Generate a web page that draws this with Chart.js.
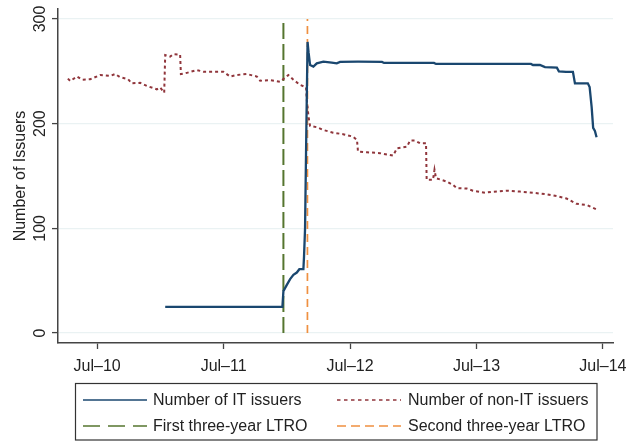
<!DOCTYPE html>
<html>
<head>
<meta charset="utf-8">
<script src="https://cdn.jsdelivr.net/npm/chart.js@4.4.1/dist/chart.umd.min.js"></script>
<style>
  html, body { margin: 0; padding: 0; background: #ffffff; }
  #wrap { width: 629px; height: 441px; position: relative; }
</style>
</head>
<body>
<div id="wrap"><canvas id="c" width="629" height="441"></canvas></div>
<script>
// ---- Data (dates as decimal years) ----
const itDates = [2011.038, 2011.965, 2011.973, 2012.000, 2012.026, 2012.052, 2012.079, 2012.099, 2012.131, 2012.136, 2012.144, 2012.155, 2012.164, 2012.172, 2012.184, 2012.210, 2012.237, 2012.289, 2012.355, 2012.395, 2012.421, 2012.563, 2012.753, 2012.769, 2013.164, 2013.180, 2013.931, 2013.947, 2014.002, 2014.042, 2014.136, 2014.152, 2014.208, 2014.263, 2014.279, 2014.381, 2014.395, 2014.411, 2014.423, 2014.437, 2014.450];
const itValues = [25, 25, 40, 46, 51.5, 55.6, 57.8, 61, 61, 73, 99, 200, 278, 268, 256, 254.5, 257.6, 259.2, 258.3, 257.6, 259, 259.2, 259, 258, 258, 257, 257, 256, 256, 254, 253.5, 250, 249.5, 249.5, 238.5, 238.5, 235, 216, 196, 193, 187];

const nonItDates = [2010.268, 2010.287, 2010.340, 2010.381, 2010.445, 2010.524, 2010.603, 2010.642, 2010.682, 2010.745, 2010.774, 2010.840, 2010.893, 2010.972, 2010.998, 2011.030, 2011.038, 2011.077, 2011.103, 2011.156, 2011.162, 2011.209, 2011.288, 2011.340, 2011.419, 2011.498, 2011.551, 2011.604, 2011.683, 2011.763, 2011.789, 2011.868, 2011.947, 2012.012, 2012.052, 2012.105, 2012.152, 2012.158, 2012.170, 2012.176, 2012.184, 2012.237, 2012.287, 2012.366, 2012.445, 2012.524, 2012.555, 2012.563, 2012.634, 2012.737, 2012.840, 2012.872, 2012.951, 2012.974, 2013.014, 2013.053, 2013.101, 2013.106, 2013.156, 2013.168, 2013.180, 2013.264, 2013.314, 2013.344, 2013.423, 2013.472, 2013.567, 2013.630, 2013.739, 2013.844, 2013.947, 2014.055, 2014.134, 2014.213, 2014.292, 2014.371, 2014.445];
const nonItValues = [243, 240.8, 245, 242, 242.4, 246.5, 245.6, 247.4, 244.3, 242.4, 238.5, 239, 236, 232.8, 234.5, 229.6, 265.5, 264, 266.4, 266, 247.4, 248.5, 251.2, 249.6, 249.6, 249.6, 245, 246.5, 247.4, 245, 241, 241.5, 240, 246.5, 242, 237, 234.7, 222.6, 208.3, 203.5, 197.8, 196.6, 194, 191.4, 189.9, 187.6, 184.4, 173.3, 172.7, 171.8, 169.5, 176.5, 178, 183.8, 183.8, 181.3, 181.3, 146.3, 146.3, 156, 147.9, 144.7, 141.5, 138.4, 138, 136, 134, 135, 136, 135.1, 134, 132.5, 130.8, 128.5, 123.4, 122.4, 118.3];

const ltroDates = [2011.973, 2012.163];
const ltroSpan = [0, 300];

const seriesLabels = ['Number of IT issuers', 'Number of non-IT issuers', 'First three-year LTRO', 'Second three-year LTRO'];
const xTickValues = [2010.5, 2011.5, 2012.5, 2013.5, 2014.5];
const xTickLabels = ['Jul\u201310', 'Jul\u201311', 'Jul\u201312', 'Jul\u201313', 'Jul\u201314'];
const yTickValues = [0, 100, 200, 300];
const yTitle = 'Number of Issuers';

// ---- Styles ----
const FONT = "'Liberation Sans', Arial, Helvetica, sans-serif";
const colors = ['#1a476f', '#90353b', '#55752f', '#ef9040'];
const widths = [2.3, 2, 2, 1.7];
const dashes = [[], [3, 3], [16, 5], [8, 5]];
const legendWidths = [1.6, 1.6, 1.6, 1.6];
const legendDashes = [[], [3.5, 3.5], [17, 8], [9, 5]];

const toPts = (xs, ys) => xs.map((x, i) => ({ x: x, y: ys[i] }));

const datasets = [
  { label: seriesLabels[0], data: toPts(itDates, itValues) },
  { label: seriesLabels[1], data: toPts(nonItDates, nonItValues) },
  { label: seriesLabels[2], data: toPts([ltroDates[0], ltroDates[0]], ltroSpan) },
  { label: seriesLabels[3], data: toPts([ltroDates[1], ltroDates[1]], ltroSpan) }
].map((d, i) => Object.assign(d, {
  borderColor: colors[i],
  borderWidth: widths[i],
  borderDash: dashes[i],
  pointRadius: 0,
  pointHoverRadius: 0,
  tension: 0,
  fill: false,
  order: [1, 2, 3, 4][i]
}));

const stataDecor = {
  id: 'stataDecor',
  afterDraw(chart) {
    const ctx = chart.ctx;
    const yScale = chart.scales.y;
    const area = chart.chartArea;
    ctx.save();
    ctx.fillStyle = '#222';
    // rotated y tick labels
    ctx.font = '16px ' + FONT;
    ctx.textAlign = 'center';
    ctx.textBaseline = 'alphabetic';
    yTickValues.forEach(v => {
      const py = yScale.getPixelForValue(v);
      ctx.save();
      ctx.translate(45, py);
      ctx.rotate(-Math.PI / 2);
      ctx.fillText(String(v), 0, 0);
      ctx.restore();
    });
    // y title
    ctx.save();
    ctx.font = '16px ' + FONT;
    ctx.translate(24.5, (area.top + area.bottom) / 2);
    ctx.rotate(-Math.PI / 2);
    ctx.fillText(yTitle, 0, 0);
    ctx.restore();

    // legend box
    ctx.strokeStyle = '#333';
    ctx.lineWidth = 1.2;
    ctx.setLineDash([]);
    ctx.strokeRect(75.5, 383.5, 521.5, 56.5);
    const lineX = [83, 337];
    const textX = [153, 408];
    const rowY = [400, 426];
    ctx.font = '16px ' + FONT;
    ctx.textAlign = 'left';
    ctx.textBaseline = 'middle';
    chart.data.datasets.forEach((ds, i) => {
      const col = i % 2, row = Math.floor(i / 2);
      const y = rowY[row];
      ctx.beginPath();
      ctx.strokeStyle = ds.borderColor;
      ctx.lineWidth = legendWidths[i];
      ctx.setLineDash(legendDashes[i]);
      ctx.moveTo(lineX[col], y);
      ctx.lineTo(lineX[col] + 64, y);
      ctx.stroke();
      ctx.setLineDash([]);
      ctx.fillStyle = '#222';
      ctx.fillText(ds.label, textX[col], y + 1);
    });
    ctx.restore();
  }
};

new Chart(document.getElementById('c'), {
  type: 'line',
  data: { datasets: datasets },
  plugins: [stataDecor],
  options: {
    responsive: false,
    animation: false,
    events: [],
    layout: { autoPadding: false, padding: { top: 9, right: 16, bottom: 58, left: 0 } },
    plugins: { legend: { display: false }, tooltip: { enabled: false }, title: { display: false } },
    scales: {
      x: {
        type: 'linear',
        min: 2010.19,
        max: 2014.58,
        afterBuildTicks: s => { s.ticks = xTickValues.map(v => ({ value: v })); },
        afterFit: s => { s.height = 40; s.paddingLeft = 0; s.paddingRight = 0; },
        ticks: {
          autoSkip: false,
          maxRotation: 0,
          minRotation: 0,
          padding: 8,
          color: '#222',
          font: { family: FONT, size: 16 },
          callback: (v, i) => xTickLabels[i]
        },
        grid: { drawOnChartArea: false, drawTicks: true, tickLength: 6, tickColor: '#444', tickWidth: 1.3, color: '#444' },
        border: { display: true, color: '#444', width: 1.5 }
      },
      y: {
        type: 'linear',
        min: -9.5,
        max: 309.5,
        afterBuildTicks: s => { s.ticks = yTickValues.map(v => ({ value: v })); },
        afterFit: s => { s.width = 58; s.paddingTop = 0; s.paddingBottom = 0; },
        ticks: { display: false },
        grid: { drawOnChartArea: true, drawTicks: true, tickLength: 6, color: '#eaf2f3', lineWidth: 1.2, tickColor: '#444', tickWidth: 1.3 },
        border: { display: true, color: '#444', width: 1.5 }
      }
    }
  }
});
</script>
</body>
</html>
